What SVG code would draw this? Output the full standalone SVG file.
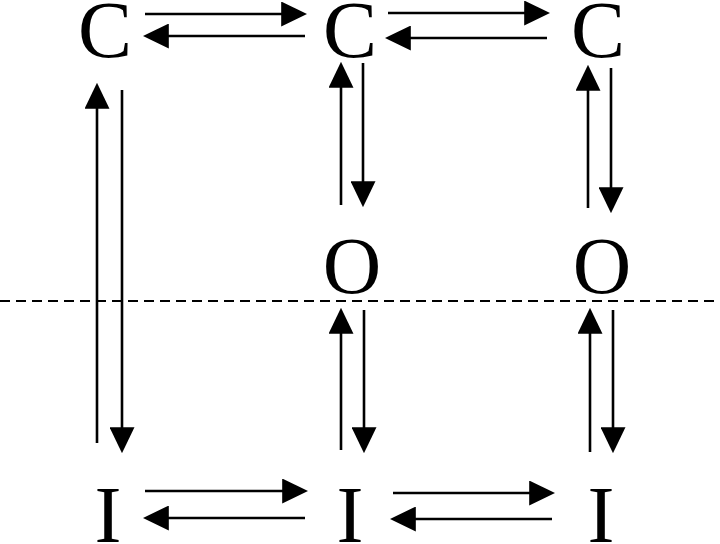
<svg xmlns="http://www.w3.org/2000/svg" width="720" height="544" viewBox="0 0 720 544">
<style>
text{font-family:"Liberation Serif","Times New Roman",serif;font-size:81px;fill:#000;text-anchor:middle}
.c line{stroke:#000;stroke-width:2.6;marker-end:url(#ah)}
.dash{stroke:#000;stroke-width:2;stroke-dasharray:10 6}
</style>
<defs>
<marker id="ah" markerUnits="userSpaceOnUse" markerWidth="26" markerHeight="25" viewBox="0 0 25 24" refX="20" refY="12" orient="auto">
<path d="M0,0 L25,12 L0,24 z" fill="#000"/>
</marker>
</defs>
<rect width="720" height="544" fill="#fff"/>
<line class="dash" x1="0" y1="301" x2="720" y2="301"/>
<g id="C1"><text x="105" y="57">C</text></g>
<g id="C2"><text x="350" y="57">C</text></g>
<g id="C3"><text x="598" y="57">C</text></g>
<g id="O2"><text x="352" y="293">O</text></g>
<g id="O3"><text x="602" y="293">O</text></g>
<g id="I1"><text x="108" y="542">I</text></g>
<g id="I2"><text x="350" y="542">I</text></g>
<g id="I3"><text x="601" y="542">I</text></g>
<g id="connectors" class="c">
<line x1="145" y1="14" x2="302" y2="14"/>
<line x1="305" y1="36" x2="148" y2="36"/>
<line x1="388" y1="13" x2="545" y2="13"/>
<line x1="547" y1="38" x2="390" y2="38"/>
<line x1="145" y1="491" x2="303" y2="491"/>
<line x1="305" y1="518" x2="148" y2="518"/>
<line x1="393" y1="493" x2="550" y2="493"/>
<line x1="552" y1="519" x2="395" y2="519"/>
<line x1="97" y1="443" x2="97" y2="88"/>
<line x1="122" y1="90" x2="122" y2="448"/>
<line x1="341" y1="205" x2="341" y2="67"/>
<line x1="363" y1="63" x2="363" y2="202"/>
<line x1="588" y1="208" x2="588" y2="70"/>
<line x1="611" y1="68" x2="611" y2="208"/>
<line x1="341" y1="450" x2="341" y2="313"/>
<line x1="364" y1="310" x2="364" y2="448"/>
<line x1="590" y1="452" x2="590" y2="313"/>
<line x1="613" y1="310" x2="613" y2="448"/>
</g>
</svg>
